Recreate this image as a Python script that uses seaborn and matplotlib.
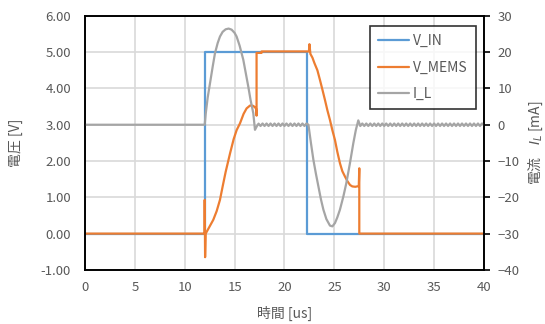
import numpy as np
import pandas as pd
import matplotlib
matplotlib.use("Agg")
import matplotlib.pyplot as plt
from matplotlib.lines import Line2D
import seaborn as sns

# Data
vin_t = [0, 12.0, 12.0, 22.3, 22.3, 40]
vin_v = [0, 0, 5.0, 5.0, 0, 0]

vmems_t = [0, 11.98, 12.0, 12.04, 12.1, 12.4, 12.86, 13.2, 13.53, 13.8, 14.1, 14.54,
           14.9, 15.2, 15.54, 15.9, 16.2, 16.55, 16.87, 17.15, 17.2, 17.2, 17.7, 17.7,
           22.45, 22.5, 22.6, 22.8, 23.0, 23.3, 23.56, 23.8, 24.06, 24.3, 24.56, 24.8,
           25.06, 25.3, 25.56, 25.8, 26.07, 26.3, 26.57, 26.8, 27.1, 27.45, 27.5, 27.5, 40]
vmems_v = [0, 0, 0.93, -0.65, 0.0, 0.15, 0.38, 0.62, 0.93, 1.3, 1.7, 2.21,
           2.6, 2.85, 3.04, 3.3, 3.45, 3.53, 3.52, 3.45, 3.25, 4.98, 4.98, 5.02,
           5.02, 5.22, 4.95, 4.85, 4.7, 4.5, 4.23, 3.97, 3.68, 3.4, 3.13, 2.85,
           2.58, 2.25, 1.94, 1.72, 1.57, 1.45, 1.34, 1.3, 1.29, 1.31, 1.8, 0.0, 0.0]

il_t = [0, 12.0, 12.1, 12.3, 12.53, 12.8, 13.03, 13.3, 13.53, 13.8, 14.1, 14.4,
        14.7, 15.0, 15.2, 15.5, 15.87, 16.1, 16.37, 16.6, 16.87, 17.04, 17.25, 17.4,
        17.6, 17.8, 18.0, 18.2, 18.4, 18.6, 18.8, 19.0, 19.2, 19.4, 19.6, 19.8,
        20.0, 20.2, 20.4, 20.6, 20.8, 21.0, 21.2, 21.4, 21.6, 21.8, 22.0, 22.2,
        22.4, 22.65, 22.9, 23.15, 23.4, 23.65, 23.9, 24.2, 24.56, 24.8, 25.06, 25.3,
        25.56, 25.9, 26.2, 26.55, 26.9, 27.15, 27.4, 27.6,
        27.8, 28.0, 28.2, 28.4, 28.6, 28.8, 29.0, 29.2, 29.4, 29.6, 29.8,
        30.0, 30.2, 30.4, 30.6, 30.8, 31.0, 31.2, 31.4, 31.6, 31.8,
        32.0, 32.2, 32.4, 32.6, 32.8, 33.0, 33.2, 33.4, 33.6, 33.8,
        34.0, 34.2, 34.4, 34.6, 34.8, 35.0, 35.2, 35.4, 35.6, 35.8,
        36.0, 36.2, 36.4, 36.6, 36.8, 37.0, 37.2, 37.4, 37.6, 37.8,
        38.0, 38.2, 38.4, 38.6, 38.8, 39.0, 39.2, 39.4, 39.6, 39.8, 40.0]
il_v = [0, 0, 3.0, 7.5, 11.5, 16.0, 19.7, 22.5, 24.3, 25.6, 26.3, 26.5,
        26.2, 25.3, 24.3, 21.8, 17.9, 14.5, 10.5, 6.8, 3.2, -1.4, -0.3, 0.3,
        -0.35, 0.35, -0.35, 0.35, -0.35, 0.35, -0.35, 0.35, -0.35, 0.35, -0.35, 0.35,
        -0.35, 0.35, -0.35, 0.35, -0.35, 0.35, -0.35, 0.35, -0.35, 0.35, -0.35, 0.35,
        0.0, -5.0, -9.7, -13.5, -17.0, -20.5, -23.4, -26.0, -27.8, -28.0, -27.1, -25.5,
        -23.4, -19.8, -16.1, -10.8, -5.1, -1.5, 1.2, -0.35,
        0.35, -0.35, 0.35, -0.35, 0.35, -0.35, 0.35, -0.35, 0.35, -0.35, 0.35,
        -0.35, 0.35, -0.35, 0.35, -0.35, 0.35, -0.35, 0.35, -0.35, 0.35,
        -0.35, 0.35, -0.35, 0.35, -0.35, 0.35, -0.35, 0.35, -0.35, 0.35,
        -0.35, 0.35, -0.35, 0.35, -0.35, 0.35, -0.35, 0.35, -0.35, 0.35,
        -0.35, 0.35, -0.35, 0.35, -0.35, 0.35, -0.35, 0.35, -0.35, 0.35,
        -0.35, 0.35, -0.35, 0.35, -0.35, 0.35, -0.35, 0.35, -0.35, 0.35, 0.0]

series_names = ['V_IN', 'V_MEMS', 'I_L']
colors = ['#5B9BD5', '#ED7D31', '#A5A5A5']
x_ticks = [0, 5, 10, 15, 20, 25, 30, 35, 40]
left_ticks = [-1, 0, 1, 2, 3, 4, 5, 6]
right_ticks = [-40, -30, -20, -10, 0, 10, 20, 30]

sns.set_theme(style="white")
plt.rcParams['font.family'] = ['Noto Sans CJK JP', 'DejaVu Sans']
text_gray = '#595959'

fig = plt.figure(figsize=(5.45, 3.24), dpi=100)
fig.subplots_adjust(left=0.156, right=0.888, top=0.951, bottom=0.167)
ax = fig.add_subplot(111)
ax2 = ax.twinx()

df_vin = pd.DataFrame({'t': vin_t, 'v': vin_v})
df_vmems = pd.DataFrame({'t': vmems_t, 'v': vmems_v})
df_il = pd.DataFrame({'t': il_t, 'v': il_v})

sns.lineplot(data=df_vin, x='t', y='v', ax=ax, color=colors[0], lw=1.6,
             sort=False, estimator=None, legend=False)
sns.lineplot(data=df_vmems, x='t', y='v', ax=ax, color=colors[1], lw=1.6,
             sort=False, estimator=None, legend=False)
sns.lineplot(data=df_il, x='t', y='v', ax=ax2, color=colors[2], lw=1.6,
             sort=False, estimator=None, legend=False)

ax.set_xlim(0, 40)
ax.set_ylim(-1, 6)
ax2.set_ylim(-40, 30)
ax.set_xticks(x_ticks)
ax.set_yticks(left_ticks)
ax.set_yticklabels([f'{v:.2f}' for v in left_ticks])
ax2.set_yticks(right_ticks)

ax.grid(True, color='#D9D9D9', lw=1.2)
ax.set_axisbelow(True)
for a in (ax, ax2):
    for s in a.spines.values():
        s.set_color('black')
        s.set_linewidth(1.2)

ax.tick_params(axis='y', length=0, labelsize=9.5, labelcolor=text_gray, pad=10)
ax.tick_params(axis='x', length=0, labelsize=9.5, labelcolor=text_gray, pad=8)
ax2.tick_params(axis='y', direction='out', length=4, width=1.2, color='black',
                labelsize=9.5, labelcolor=text_gray, pad=6)

ax.set_xlabel('時間 [us]', fontsize=10, color=text_gray)
ax.xaxis.set_label_coords(0.5, -0.14)
ax.set_ylabel('電圧 [V]', fontsize=10, color=text_gray)
ax.yaxis.set_label_coords(-0.155, 0.5)
ax2.set_ylabel('電流    $I_L$ [mA]', fontsize=10, color=text_gray)
ax2.yaxis.set_label_coords(1.106, 0.5)

handles = [Line2D([0], [0], color=c, lw=1.6) for c in colors]
leg = ax2.legend(handles, series_names, loc='upper left', bbox_to_anchor=(0.714, 0.961),
                 borderaxespad=0, fancybox=False, frameon=True, fontsize=10,
                 handlelength=2.2, handletextpad=0.3, labelspacing=0.9, borderpad=0.6)
leg.get_frame().set_edgecolor('black')
leg.get_frame().set_linewidth(1.2)
for txt in leg.get_texts():
    txt.set_color(text_gray)

fig.savefig('out.png', dpi=100)
